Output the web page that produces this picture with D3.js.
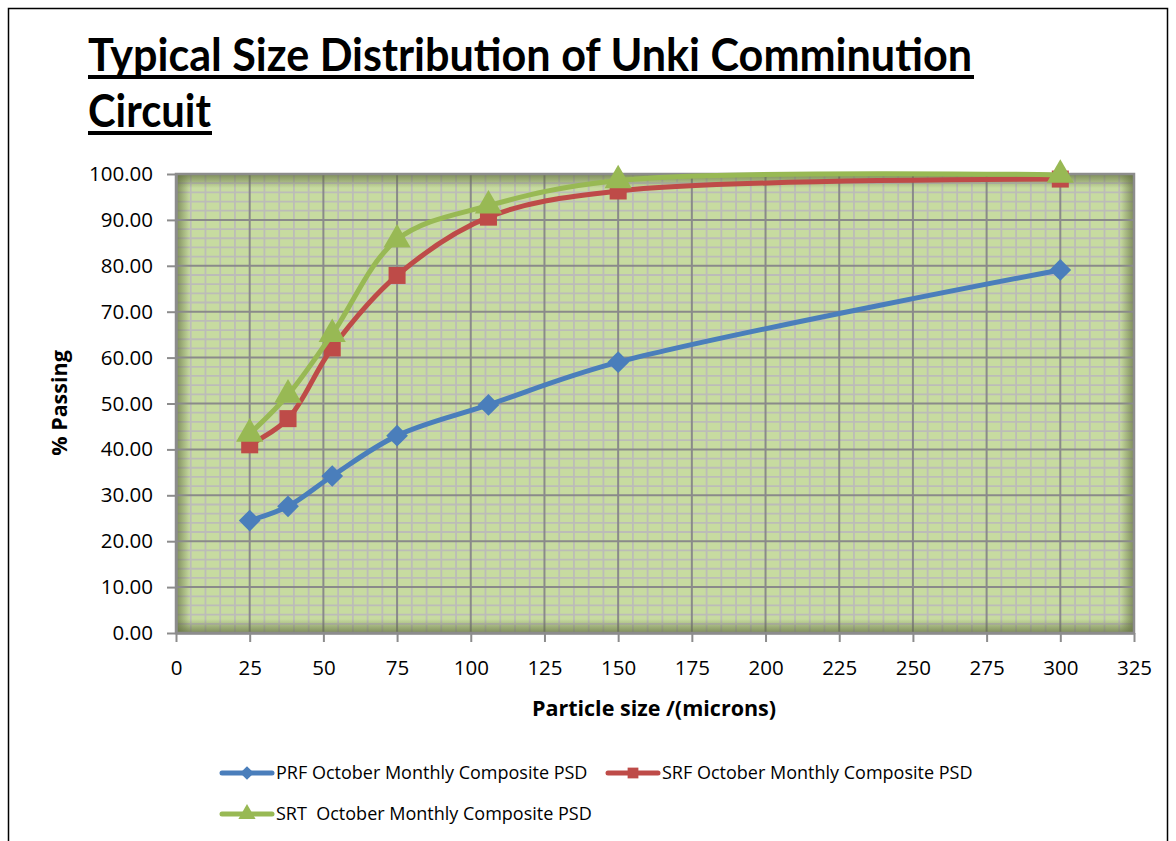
<!DOCTYPE html>
<html>
<head>
<meta charset="utf-8">
<script src="https://cdn.jsdelivr.net/npm/d3@7"></script>
<style>
  body { margin: 0; background: #fff; }
  svg { display: block; font-family: "Open Sans", "DejaVu Sans", sans-serif; }
</style>
</head>
<body>
<div id="chart"></div>
<script>
// particle sizes (microns) and % passing for each composite
let sizes = [25, 38, 53, 75, 106, 150, 300];
let prf = [24.5, 27.6, 34.2, 43.0, 49.7, 59.0, 79.1];
let srf = [41.0, 46.7, 62.1, 77.9, 90.6, 96.3, 98.9];
let srt = [43.4, 51.9, 65.1, 85.7, 93.1, 98.6, 99.8];
let seriesNames = [
	"PRF October Monthly Composite PSD",
	"SRF October Monthly Composite PSD",
	"SRT  October Monthly Composite PSD",
];
let xTicks = [0, 25, 50, 75, 100, 125, 150, 175, 200, 225, 250, 275, 300, 325];
let yTicks = [0, 10, 20, 30, 40, 50, 60, 70, 80, 90, 100];

let width = 1176;
let height = 841;
let plot = { left: 176, right: 1134, top: 174, bottom: 633 };

let colors = ["#4a7ebb", "#be4b48", "#98b954"];
let markers = [d3.symbolDiamond2, d3.symbolSquare, d3.symbolTriangle];
let markerSize = [300, 290, 320];

let x = d3.scaleLinear().domain([0, 325]).range([plot.left, plot.right]);
let y = d3.scaleLinear().domain([0, 100]).range([plot.bottom, plot.top]);

let svg = d3
	.select("#chart")
	.append("svg")
	.attr("width", width)
	.attr("height", height);

// outer frame
svg.append("path")
	.attr("d", "M8.5," + height + " V8.5 H1167.5 V" + height)
	.attr("fill", "none")
	.attr("stroke", "#000")
	.attr("stroke-width", 1.5);

// title
let title = svg.append("g")
	.attr("font-weight", "bold")
	.attr("font-family", "Lato, 'Open Sans', sans-serif")
	.attr("font-size", 46)
	.attr("fill", "#000");

title.append("text")
	.attr("x", 88)
	.attr("y", 71)
	.attr("textLength", 884)
	.attr("lengthAdjust", "spacingAndGlyphs")
	.text("Typical Size Distribution of Unki Comminution");
title.append("rect").attr("x", 88).attr("y", 75).attr("width", 886).attr("height", 4);

title.append("text")
	.attr("x", 88)
	.attr("y", 127)
	.attr("textLength", 123)
	.attr("lengthAdjust", "spacingAndGlyphs")
	.text("Circuit");
title.append("rect").attr("x", 88).attr("y", 131).attr("width", 124).attr("height", 4);

// plot background with darker edges
let defs = svg.append("defs");
function edgeGrad(id, x1, y1, x2, y2) {
	let g = defs.append("linearGradient")
		.attr("id", id)
		.attr("x1", x1).attr("y1", y1).attr("x2", x2).attr("y2", y2);
	g.append("stop").attr("offset", "0%").attr("stop-color", "#5e6a3c").attr("stop-opacity", 0.7);
	g.append("stop").attr("offset", "100%").attr("stop-color", "#5e6a3c").attr("stop-opacity", 0);
}
edgeGrad("gl", 0, 0, 1, 0);
edgeGrad("gr", 1, 0, 0, 0);
edgeGrad("gt", 0, 0, 0, 1);
edgeGrad("gb", 0, 1, 0, 0);

let pw = plot.right - plot.left;
let ph = plot.bottom - plot.top;
let edge = 14;
svg.append("rect")
	.attr("x", plot.left).attr("y", plot.top)
	.attr("width", pw).attr("height", ph)
	.attr("fill", "#c7dba0");

// minor grid
let minorX = d3.range(0, 326, 5).filter((d) => d % 25 !== 0);
let minorY = d3.range(0, 101, 2).filter((d) => d % 10 !== 0);
let grid = svg.append("g");
grid.selectAll(".mx")
	.data(minorX)
	.join("line")
	.attr("x1", (d) => x(d)).attr("x2", (d) => x(d))
	.attr("y1", plot.top).attr("y2", plot.bottom)
	.attr("stroke", "#bcbcb8").attr("stroke-width", 1.8);
grid.selectAll(".my")
	.data(minorY)
	.join("line")
	.attr("y1", (d) => y(d)).attr("y2", (d) => y(d))
	.attr("x1", plot.left).attr("x2", plot.right)
	.attr("stroke", "#bcbcb8").attr("stroke-width", 1.8);

// edge shading
svg.append("rect").attr("x", plot.left).attr("y", plot.top).attr("width", edge).attr("height", ph).attr("fill", "url(#gl)");
svg.append("rect").attr("x", plot.right - edge).attr("y", plot.top).attr("width", edge).attr("height", ph).attr("fill", "url(#gr)");
svg.append("rect").attr("x", plot.left).attr("y", plot.top).attr("width", pw).attr("height", edge).attr("fill", "url(#gt)");
svg.append("rect").attr("x", plot.left).attr("y", plot.bottom - edge).attr("width", pw).attr("height", edge).attr("fill", "url(#gb)");

// major grid
grid.selectAll(".gx")
	.data(xTicks.slice(1, -1))
	.join("line")
	.attr("x1", (d) => x(d)).attr("x2", (d) => x(d))
	.attr("y1", plot.top).attr("y2", plot.bottom)
	.attr("stroke", "#8a8a8a").attr("stroke-width", 2);
svg.append("g").selectAll("line")
	.data(yTicks.slice(1, -1))
	.join("line")
	.attr("y1", (d) => y(d)).attr("y2", (d) => y(d))
	.attr("x1", plot.left).attr("x2", plot.right)
	.attr("stroke", "#8a8a8a").attr("stroke-width", 2);

// plot border
svg.append("rect")
	.attr("x", plot.left).attr("y", plot.top)
	.attr("width", pw).attr("height", ph)
	.attr("fill", "none")
	.attr("stroke", "#8c8c8c")
	.attr("stroke-width", 2.5);

// axes
let xAxis = svg.append("g")
	.attr("transform", "translate(0," + plot.bottom + ")")
	.call(d3.axisBottom(x).tickValues(xTicks).tickSizeInner(9).tickSizeOuter(0).tickPadding(18).tickFormat(d3.format("d")));
let yAxis = svg.append("g")
	.attr("transform", "translate(" + plot.left + ",0)")
	.call(d3.axisLeft(y).tickValues(yTicks).tickSizeInner(9).tickSizeOuter(0).tickPadding(14).tickFormat(d3.format(".2f")));

[xAxis, yAxis].forEach((g) => {
	g.select(".domain").attr("stroke", "#8c8c8c").attr("stroke-width", 2.5);
	g.selectAll(".tick line").attr("stroke", "#8c8c8c").attr("stroke-width", 2);
	g.selectAll(".tick text")
		.attr("fill", "#000")
		.attr("font-size", 20.5)
		.attr("font-family", "'Open Sans', sans-serif");
});

svg.append("text")
	.attr("x", 654)
	.attr("y", 716)
	.attr("text-anchor", "middle")
	.attr("font-weight", "bold")
	.attr("font-size", 21.5)
	.text("Particle size /(microns)");

svg.append("text")
	.attr("transform", "translate(67,403) rotate(-90)")
	.attr("text-anchor", "middle")
	.attr("font-weight", "bold")
	.attr("font-size", 21.5)
	.text("% Passing");

// series
let allSeries = [prf, srf, srt];
let line = d3.line()
	.x((d, i) => x(sizes[i]))
	.y((d) => y(d))
	.curve(d3.curveCatmullRom.alpha(0.5));

let seriesG = svg.append("g")
	.selectAll("g")
	.data(allSeries)
	.join("g");

seriesG.append("path")
	.attr("d", (d) => line(d))
	.attr("fill", "none")
	.attr("stroke", (d, i) => colors[i])
	.attr("stroke-width", 5)
	.attr("stroke-linejoin", "round");

seriesG.each(function (vals, si) {
	d3.select(this)
		.selectAll("path.pt")
		.data(vals)
		.join("path")
		.attr("class", "pt")
		.attr("transform", (d, i) => "translate(" + x(sizes[i]) + "," + y(d) + ")")
		.attr("d", d3.symbol().type(markers[si]).size(markerSize[si]))
		.attr("fill", colors[si]);
});

// legend
let legendPos = [
	{ x: 222, y: 773 },
	{ x: 608, y: 773 },
	{ x: 222, y: 814 },
];
let legend = svg.append("g")
	.selectAll("g")
	.data(seriesNames)
	.join("g")
	.attr("transform", (d, i) => "translate(" + legendPos[i].x + "," + legendPos[i].y + ")");

legend.append("line")
	.attr("x1", 0).attr("x2", 50)
	.attr("stroke", (d, i) => colors[i])
	.attr("stroke-width", 5)
	.attr("stroke-linecap", "round");
legend.append("path")
	.attr("transform", "translate(25,0)")
	.attr("d", (d, i) => d3.symbol().type(markers[i]).size(markerSize[i] * 0.4)())
	.attr("fill", (d, i) => colors[i]);
legend.append("text")
	.attr("x", 54)
	.attr("dy", "0.35em")
	.attr("font-size", 18)
	.attr("fill", "#000")
	.style("white-space", "pre")
	.text((d) => d);
</script>
</body>
</html>
